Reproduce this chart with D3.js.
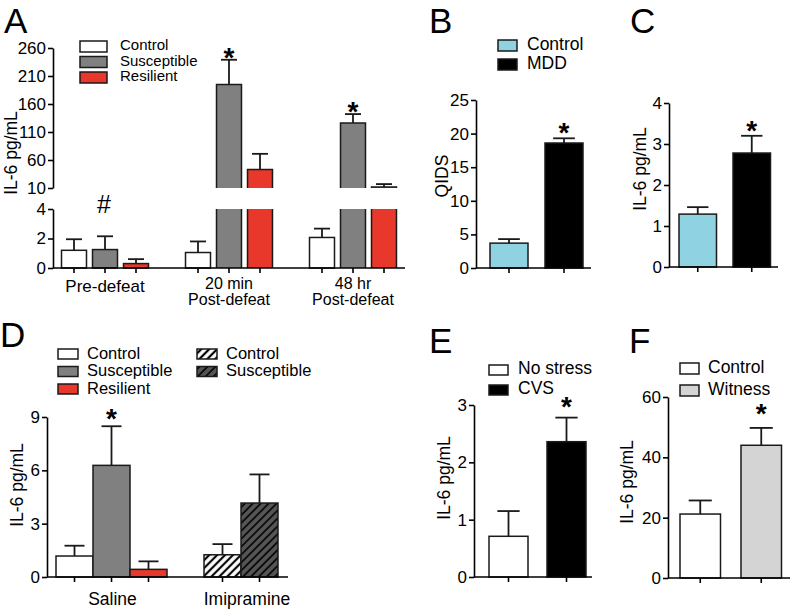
<!DOCTYPE html>
<html><head><meta charset="utf-8">
<script src="https://cdn.jsdelivr.net/npm/d3@7"></script>
<style>body{margin:0;background:#fff}svg{display:block}</style>
</head><body>
<script>
// ---------------- DATA ----------------
const catsA = ["Pre-defeat", "20 min|Post-defeat", "48 hr|Post-defeat"];
const seriesA = ["Control", "Susceptible", "Resilient"];
const meanA = [[1.2, 1.25, 0.3], [1.05, 195, 43], [2.07, 126, 12]];
const semA = [[0.75, 0.9, 0.3], [0.75, 44, 28], [0.6, 16, 5]];
const sigA = [[false, false, false], [false, true, false], [false, true, false]];
const ticksALow = [0, 2, 4];
const ticksAHigh = [10, 60, 110, 160, 210, 260];

const catsB = ["Control", "MDD"];
const meanB = [3.7, 18.6];
const semB = [0.6, 0.7];
const sigB = [false, true];
const ticksB = [0, 5, 10, 15, 20, 25];

const catsC = ["Control", "MDD"];
const meanC = [1.29, 2.78];
const semC = [0.17, 0.42];
const sigC = [false, true];
const ticksC = [0, 1, 2, 3, 4];

const groupsD = ["Saline", "Imipramine"];
const seriesSaline = ["Control", "Susceptible", "Resilient"];
const seriesImip = ["Control", "Susceptible"];
const meanSaline = [1.18, 6.28, 0.43];
const semSaline = [0.58, 2.2, 0.45];
const meanImip = [1.25, 4.16];
const semImip = [0.6, 1.61];
const sigSaline = [false, true, false];
const ticksD = [0, 3, 6, 9];

const catsE = ["No stress", "CVS"];
const meanE = [0.71, 2.36];
const semE = [0.44, 0.42];
const sigE = [false, true];
const ticksE = [0, 1, 2, 3];

const catsF = ["Control", "Witness"];
const meanF = [21.2, 44];
const semF = [4.5, 5.75];
const sigF = [false, true];
const ticksF = [0, 20, 40, 60];

// ---------------- STYLE ----------------
const FONT = "'Liberation Sans', Arial, Helvetica, sans-serif";
const STROKE = "#1a1a1a";
const C_WHITE = "#ffffff", C_GRAY = "#808080", C_RED = "#e8372b",
      C_BLUE = "#8fd3e3", C_BLACK = "#000000", C_LGRAY = "#d4d4d4";

const svg = d3.select("body").append("svg").attr("width", 793).attr("height", 611)
  .attr("font-family", FONT);

const defs = svg.append("defs");
function hatch(id, bg, sw, sp) {
  const p = defs.append("pattern").attr("id", id).attr("patternUnits", "userSpaceOnUse")
    .attr("width", sp).attr("height", sp).attr("patternTransform", "rotate(45)");
  p.append("rect").attr("width", sp).attr("height", sp).attr("fill", bg);
  p.append("line").attr("x1", sp / 2).attr("y1", -1).attr("x2", sp / 2).attr("y2", sp + 1)
    .attr("stroke", "#000").attr("stroke-width", sw);
}
hatch("hatchW", "#ffffff", 2.2, 5.6);
hatch("hatchD", "#555555", 1.6, 5.6);

function panelLetter(t, x, y) {
  svg.append("text").attr("x", x).attr("y", y).attr("font-size", 35).text(t);
}
function yAxis(scale, x, ticks, fs) {
  const g = svg.append("g").attr("transform", `translate(${x},0)`)
    .call(d3.axisLeft(scale).tickValues(ticks).tickSize(5).tickSizeOuter(0).tickPadding(2).tickFormat(d3.format("d")));
  g.attr("font-family", FONT).attr("font-size", fs);
  g.select(".domain").attr("stroke", "#000").attr("stroke-width", 1.6);
  g.selectAll(".tick line").attr("stroke", "#000").attr("stroke-width", 1.6);
  g.selectAll(".tick text").attr("fill", "#000");
  return g;
}
function yLabel(t, x, y) {
  svg.append("text").attr("transform", `translate(${x},${y}) rotate(-90)`)
    .attr("text-anchor", "middle").attr("font-size", 17.5).text(t);
}
function xAxisLine(y0, x0, x1, centers) {
  svg.append("line").attr("x1", x0).attr("x2", x1).attr("y1", y0).attr("y2", y0)
    .attr("stroke", "#000").attr("stroke-width", 1.6);
  svg.selectAll(null).data(centers).enter().append("line")
    .attr("x1", d => d).attr("x2", d => d).attr("y1", y0).attr("y2", y0 + 5)
    .attr("stroke", "#000").attr("stroke-width", 1.6);
}
function errBar(cx, yTop, yErr, cap) {
  svg.append("line").attr("x1", cx).attr("x2", cx).attr("y1", yTop).attr("y2", yErr)
    .attr("stroke", STROKE).attr("stroke-width", 1.8);
  svg.append("line").attr("x1", cx - cap / 2).attr("x2", cx + cap / 2).attr("y1", yErr).attr("y2", yErr)
    .attr("stroke", STROKE).attr("stroke-width", 1.8);
}
function star(cx, cy) {
  svg.append("text").attr("x", cx).attr("y", cy + 15.5).attr("text-anchor", "middle")
    .attr("font-size", 28).attr("font-weight", "bold").text("*");
}
function legend(items, bx, bw, bh, tx, baselines, off, fs) {
  items.forEach((it, i) => {
    svg.append("rect").attr("x", bx).attr("y", baselines[i] + off).attr("width", bw).attr("height", bh)
      .attr("fill", it.fill).attr("stroke", STROKE).attr("stroke-width", 1.5);
    svg.append("text").attr("x", tx).attr("y", baselines[i]).attr("font-size", fs).text(it.name);
  });
}
function bandScale(domain, x0, bw, step) {
  const p = 1 - bw / step;
  return d3.scaleBand().domain(domain).range([x0, x0 + step * (domain.length - p)])
    .paddingInner(p).paddingOuter(0);
}

// ---------------- PANEL A ----------------
panelLetter("A", 4, 33);
const yAL = d3.scaleLinear().domain([0, 4]).range([268, 209]);
const yAH = d3.scaleLinear().domain([10, 260]).range([188, 48]);
const xAOuter = d3.scaleBand().domain(catsA).range([58.5, 58.5 + 124 * 2.75]).paddingInner(0.25).paddingOuter(0);
const xAInner = d3.scaleBand().domain(seriesA).range([0, xAOuter.bandwidth()]).paddingInner(0.194).paddingOuter(0.097);
const fillsA = [C_WHITE, C_GRAY, C_RED];
yAxis(yAL, 53, ticksALow, 17);
yAxis(yAH, 53, ticksAHigh, 17);
yLabel("IL-6 pg/mL", 16.5, 153);
const centersA = [];
catsA.forEach((c, gi) => {
  seriesA.forEach((s, si) => {
    const v = meanA[gi][si], e = semA[gi][si];
    const x = xAOuter(c) + xAInner(s), w = xAInner.bandwidth(), cx = x + w / 2;
    centersA.push(cx);
    if (v <= 4) {
      svg.append("rect").attr("x", x).attr("y", yAL(v)).attr("width", w).attr("height", yAL(0) - yAL(v))
        .attr("fill", fillsA[si]).attr("stroke", STROKE).attr("stroke-width", 1.5);
      errBar(cx, yAL(v), yAL(v + e), 16);
    } else {
      svg.append("rect").attr("x", x).attr("y", yAL(4)).attr("width", w).attr("height", yAL(0) - yAL(4))
        .attr("fill", fillsA[si]);
      svg.append("path").attr("d", `M${x},${yAL(0)}V${yAL(4)}M${x + w},${yAL(4)}V${yAL(0)}`)
        .attr("fill", "none").attr("stroke", STROKE).attr("stroke-width", 1.5);
      svg.append("rect").attr("x", x).attr("y", yAH(v)).attr("width", w).attr("height", yAH(10) - yAH(v))
        .attr("fill", fillsA[si]);
      svg.append("path").attr("d", `M${x},${yAH(10)}V${yAH(v)}H${x + w}V${yAH(10)}`)
        .attr("fill", "none").attr("stroke", STROKE).attr("stroke-width", 1.5);
      errBar(cx, yAH(v), yAH(v + e), 16);
    }
    if (sigA[gi][si]) star(cx, yAH(v + e) - 8.5);
  });
  const lines = c.split("|");
  const gx = xAOuter(c) + xAOuter.bandwidth() / 2;
  lines.forEach((t, li) => {
    svg.append("text").attr("x", gx).attr("y", (lines.length === 1 ? 292 : 288.5) + li * 16.5)
      .attr("text-anchor", "middle").attr("font-size", lines.length === 1 ? 17 : 16).text(t);
  });
});
xAxisLine(268, 53, 405, centersA);
svg.append("text").attr("x", 104).attr("y", 213).attr("text-anchor", "middle").attr("font-size", 25).text("#");
legend(seriesA.map((s, i) => ({ name: s, fill: fillsA[i] })), 80, 27, 11, 120, [50, 65.5, 81], -9, 15);

// ---------------- simple two-bar panel ----------------
function simplePanel(o) {
  const y = d3.scaleLinear().domain([o.ticks[0], o.ticks[o.ticks.length - 1]]).range([o.y0, o.yTop]);
  const x = bandScale(o.cats, o.barX0, o.barW, o.step);
  yAxis(y, o.ax, o.ticks, 17);
  const centers = [];
  o.cats.forEach((c, i) => {
    const v = o.means[i], e = o.sems[i], bx = x(c), w = x.bandwidth(), cx = bx + w / 2;
    centers.push(cx);
    svg.append("rect").attr("x", bx).attr("y", y(v)).attr("width", w).attr("height", y(0) - y(v))
      .attr("fill", o.fills[i]).attr("stroke", STROKE).attr("stroke-width", 1.5);
    errBar(cx, y(v), y(v + e), w * 0.57);
    if (o.sig[i]) star(cx, y(v + e) - o.starOff);
  });
  xAxisLine(o.y0, o.ax, o.xEnd, centers);
  yLabel(o.label, o.labelX, o.labelY);
}

// ---------------- PANEL B ----------------
panelLetter("B", 429, 33);
simplePanel({ cats: catsB, means: meanB, sems: semB, sig: sigB, fills: [C_BLUE, C_BLACK], ticks: ticksB,
  ax: 476, y0: 268, yTop: 100, barX0: 490, barW: 38, step: 55, xEnd: 591,
  label: "QIDS", labelX: 448, labelY: 176, starOff: 12 });
legend([{ name: "Control", fill: C_BLUE }, { name: "MDD", fill: C_BLACK }], 498, 19, 11, 527, [50, 69], -10, 17.5);

// ---------------- PANEL C ----------------
panelLetter("C", 630, 33);
simplePanel({ cats: catsC, means: meanC, sems: semC, sig: sigC, fills: [C_BLUE, C_BLACK], ticks: ticksC,
  ax: 669, y0: 267, yTop: 103, barX0: 679, barW: 37.5, step: 54, xEnd: 778,
  label: "IL-6 pg/mL", labelX: 645.5, labelY: 169, starOff: 11 });

// ---------------- PANEL D ----------------
panelLetter("D", 0, 347);
{
  const y = d3.scaleLinear().domain([0, 9]).range([577, 417]);
  const slots = seriesSaline.map(s => "Saline|" + s).concat(["gap"], seriesImip.map(s => "Imipramine|" + s));
  const x = d3.scaleBand().domain(slots).range([56, 56 + 37 * slots.length]).padding(0);
  yAxis(y, 47, ticksD, 17);
  const fillsSal = [C_WHITE, C_GRAY, C_RED];
  const fillsImp = ["url(#hatchW)", "url(#hatchD)"];
  const centers = [];
  const drawBar = (key, v, e, fill, sig) => {
    const bx = x(key), w = x.bandwidth(), cx = bx + w / 2;
    centers.push(cx);
    svg.append("rect").attr("x", bx).attr("y", y(v)).attr("width", w).attr("height", y(0) - y(v))
      .attr("fill", fill).attr("stroke", STROKE).attr("stroke-width", 1.5);
    errBar(cx, y(v), y(v + e), 20);
    if (sig) star(cx, y(v + e) - 14);
    return cx;
  };
  const salC = seriesSaline.map((s, i) => drawBar("Saline|" + s, meanSaline[i], semSaline[i], fillsSal[i], sigSaline[i]));
  const impC = seriesImip.map((s, i) => drawBar("Imipramine|" + s, meanImip[i], semImip[i], fillsImp[i], false));
  xAxisLine(577, 47, 288, centers);
  const gC = [d3.mean(salC) + 1, d3.mean(impC) + 6];
  groupsD.forEach((g, i) => svg.append("text").attr("x", gC[i]).attr("y", 605)
    .attr("text-anchor", "middle").attr("font-size", 17.5).text(g));
  yLabel("IL-6 pg/mL", 22.5, 485);
  legend(seriesSaline.map((s, i) => ({ name: s, fill: fillsSal[i] })), 58, 20, 10, 87, [358.5, 376, 393.5], -9.5, 16.5);
  legend(seriesImip.map((s, i) => ({ name: s, fill: fillsImp[i] })), 197, 20, 10, 226, [358.5, 376], -9.5, 16.5);
}

// ---------------- PANEL E ----------------
panelLetter("E", 429, 353);
simplePanel({ cats: catsE, means: meanE, sems: semE, sig: sigE, fills: [C_WHITE, C_BLACK], ticks: ticksE,
  ax: 474, y0: 577, yTop: 405, barX0: 489, barW: 39, step: 58, xEnd: 592,
  label: "IL-6 pg/mL", labelX: 449.5, labelY: 478, starOff: 17 });
legend([{ name: "No stress", fill: C_WHITE }, { name: "CVS", fill: C_BLACK }], 489, 19, 10, 518, [374, 394], -9, 17.5);

// ---------------- PANEL F ----------------
panelLetter("F", 629, 353);
simplePanel({ cats: catsF, means: meanF, sems: semF, sig: sigF, fills: [C_WHITE, C_LGRAY], ticks: ticksF,
  ax: 668, y0: 578, yTop: 397, barX0: 680, barW: 40.5, step: 61, xEnd: 790,
  label: "IL-6 pg/mL", labelX: 632.5, labelY: 482, starOff: 20 });
legend([{ name: "Control", fill: C_WHITE }, { name: "Witness", fill: C_LGRAY }], 680, 19, 11, 708, [373, 395], -10, 17.5);
</script>
</body></html>
